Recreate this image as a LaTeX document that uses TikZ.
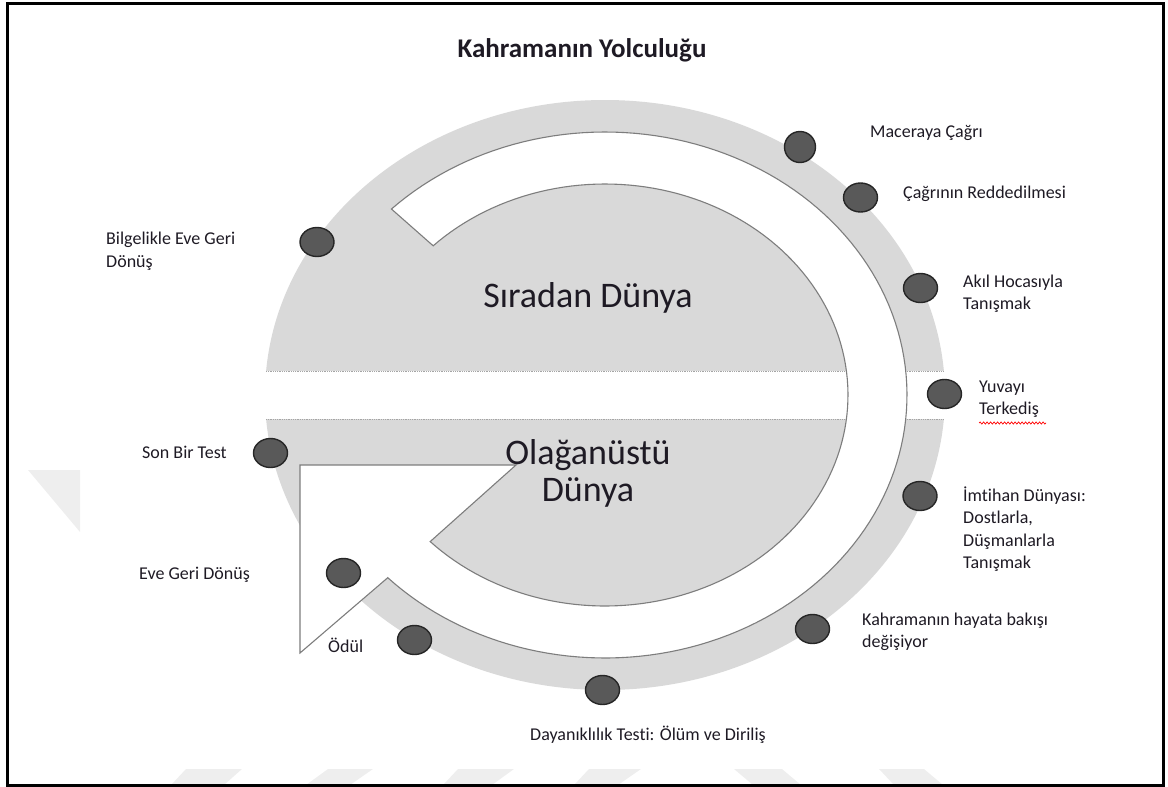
\documentclass[tikz,border=0pt]{standalone}
\usepackage{fontspec}
\setmainfont{Carlito}[Ligatures=CommonOff]
\usetikzlibrary{shapes.geometric,decorations.pathmorphing}
\definecolor{ringgrey}{RGB}{217,217,217}
\definecolor{dotfill}{RGB}{89,89,89}
\definecolor{dotline}{RGB}{38,38,38}
\definecolor{edgegrey}{RGB}{125,125,125}
\definecolor{wm}{RGB}{238,238,238}
\definecolor{txt}{RGB}{30,26,36}
\definecolor{dotgrey}{RGB}{165,165,165}
\begin{document}
\begin{tikzpicture}[x=1pt,y=-1pt,
  every node/.style={inner sep=0pt, text=txt},
  lab/.style={font=\fontsize{18}{22.5}\selectfont, align=left, anchor=west},
  big/.style={font=\fontsize{36}{37}\selectfont, align=center},
  stage/.style={ellipse, draw=dotline, line width=1.4pt, fill=dotfill, minimum width=34pt, minimum height=29pt},
  rim/.style={draw=edgegrey, line width=1.1pt, line join=miter},
  bandline/.style={draw=dotgrey, line width=0.8pt, densely dotted},
  wmark/.style={fill=wm, draw=none}]
\useasboundingbox (0,0) rectangle (1168,787);
% watermark remnants
\fill[wmark] (28,470) -- (80,470) -- (80,532) -- cycle;
\fill[wmark] (171,785) -- (186,769) -- (242,769) -- (224,785) -- cycle;
\fill[wmark] (306,785) -- (328,769) -- (373,769) -- (350,785) -- cycle;
\fill[wmark] (443,785) -- (458,769) -- (514,769) -- (492,785) -- cycle;
\fill[wmark] (574,785) -- (589,769) -- (641,769) -- (618,785) -- cycle;
\fill[wmark] (734,769) -- (782,769) -- (801,785) -- (753,785) -- cycle;
\fill[wmark] (879,769) -- (924,769) -- (943,785) -- (894,785) -- cycle;
% big grey disc
\fill[ringgrey] (605,395) ellipse [x radius=340, y radius=295];
% white band
\fill[white] (265,371) rectangle (945,419);
\draw[bandline] (266,371) -- (944,371);
\draw[bandline] (266,419) -- (944,419);
% circular arrow
\path[fill=white, rim]
  plot[domain=225:496, samples=140] ({605+302*cos(\x)},{395+263*sin(\x)})
  -- (300,653) -- (300,465) -- (516,465)
  -- plot[domain=496:225, samples=140] ({605+243*cos(\x)},{395+211*sin(\x)})
  -- cycle;
% stage dots
\node[stage, minimum width=31pt, minimum height=31pt] (d1) at (800,147) {};
\node[stage] (d2) at (860.5,197.5) {};
\node[stage] (d3) at (920.5,288) {};
\node[stage] (d4) at (944.5,394) {};
\node[stage] (d5) at (920,496) {};
\node[stage] (d6) at (812.5,629) {};
\node[stage] (d7) at (602.5,690) {};
\node[stage] (d8) at (414.5,640) {};
\node[stage] (d9) at (343.5,573) {};
\node[stage] (d10) at (270.5,453) {};
\node[stage] (d11) at (317,242) {};
% labels
\node[lab] (l1) at (870,133) {Maceraya Çağrı};
\node[lab] (l2) at (903,194) {Çağrının Reddedilmesi};
\node[lab] (l3) at (963,294) {Akıl Hocasıyla\\Tanışmak};
\node[lab] (l4) at (979,399) {Yuvayı\\Terkediş};
\node[lab] (l5) at (963,529) {İmtihan Dünyası:\\Dostlarla,\\Düşmanlarla\\Tanışmak};
\node[lab] (l6) at (862,632) {Kahramanın hayata bakışı\\değişiyor};
\node[lab] (l7) at (530,735) {Dayanıklılık Testi: Ölüm ve Diriliş};
\node[lab] (l8) at (328,645) {Ödül};
\node[lab] (l9) at (139,575) {Eve Geri Dönüş};
\node[lab] (l10) at (142,452) {Son Bir Test};
\node[lab] (l11) at (106,251.5) {Bilgelikle Eve Geri\\Dönüş};
\draw[red, line width=0.7pt, decorate, decoration={snake, amplitude=1.1pt, segment length=3.5pt}] (979,423) -- (1046,423);
% titles
\node[font=\fontsize{27}{30}\selectfont\bfseries] (title) at (582,50) {Kahramanın Yolculuğu};
\node[big] (ord) at (588,298) {Sıradan Dünya};
\node[big] (ext) at (588,473.5) {Olağanüstü\\Dünya};
% frame
\draw[line width=3pt] (7,3) rectangle (1163,785.5);
\end{tikzpicture}
\end{document}
